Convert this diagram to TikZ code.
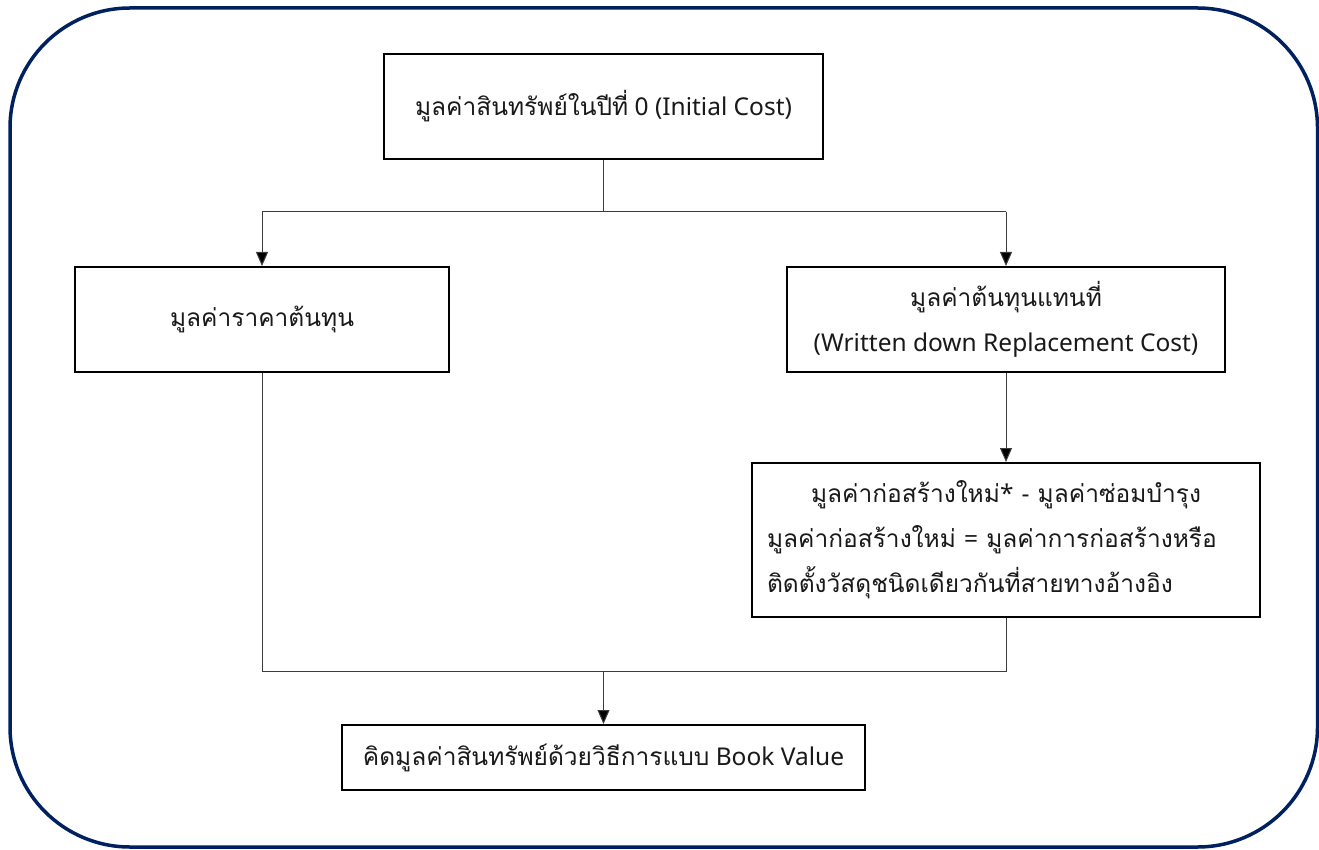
\documentclass[tikz,border=0pt]{standalone}
\usepackage{fontspec}
\newfontfamily\thaifont[Script=Thai]{Loma}
\newfontfamily\latinfont{Noto Sans}
\newcommand{\lat}[1]{{\latinfont #1}}
\usetikzlibrary{arrows.meta}
\definecolor{navy}{RGB}{0,32,96}
\definecolor{ink}{RGB}{25,25,25}
\tikzset{
  stepbox/.style={draw=black, line width=2pt, fill=white, text=ink,
    inner sep=0pt, font=\thaifont\fontsize{24.5}{45}\selectfont},
  link/.style={draw=ink!85, line width=1pt},
  linkarrow/.style={link, -{Triangle[length=14pt,width=12pt,fill=black]}},
}
\begin{document}
\begin{tikzpicture}[x=1pt,y=-1pt]
  \useasboundingbox (0,0) rectangle (1319,850);
  % outer frame
  \draw[navy, line width=3.5pt, rounded corners=120pt] (10,8) rectangle (1317.5,847);

  % boxes
  \node[stepbox, minimum width=439pt, minimum height=105pt] (init) at (603.5,106.5)
    {มูลค่าสินทรัพย์ในปีที่\lat{ 0 (Initial Cost)}};
  \node[stepbox, minimum width=374pt, minimum height=105pt] (hist) at (262,319.5)
    {มูลค่าราคาต้นทุน};
  \node[stepbox, minimum width=438pt, minimum height=105pt, align=center] (repl) at (1006,319.5)
    {มูลค่าต้นทุนแทนที่\\\lat{(Written down Replacement Cost)}};
  \node[stepbox, minimum width=508pt, minimum height=154pt, text width=478pt, align=left] (calc) at (1006,540)
    {\makebox[\linewidth]{มูลค่าก่อสร้างใหม่\lat{* - }มูลค่าซ่อมบำรุง}\\
     มูลค่าก่อสร้างใหม่\lat{ = }มูลค่าการก่อสร้างหรือ\\
     ติดตั้งวัสดุชนิดเดียวกันที่สายทางอ้างอิง};
  \node[stepbox, minimum width=523pt, minimum height=65pt] (book) at (603.5,757.5)
    {คิดมูลค่าสินทรัพย์ด้วยวิธีการแบบ\lat{ Book Value}};

  % junction points
  \coordinate (split) at (init.south |- 0,212);
  \coordinate (merge) at (book.north |- 0,671);

  % connectors
  \draw[link] (init.south) -- (split);
  \draw[link] (hist.north |- split) -- (repl.north |- split);
  \draw[linkarrow] (hist.north |- split) -- (hist.north);
  \draw[linkarrow] (repl.north |- split) -- (repl.north);
  \draw[linkarrow] (repl.south) -- (calc.north);
  \draw[link] (hist.south) -- (hist.south |- merge) -- (calc.south |- merge) -- (calc.south);
  \draw[linkarrow] (merge) -- (book.north);
\end{tikzpicture}
\end{document}
